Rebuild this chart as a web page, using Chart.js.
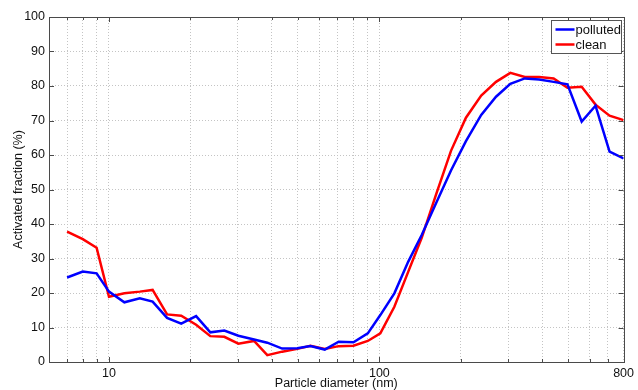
<!DOCTYPE html>
<html>
<head>
<meta charset="utf-8">
<script src="https://cdn.jsdelivr.net/npm/chart.js@4"></script>
<style>
    html, body { margin: 0; padding: 0; background: #fff; }
    #wrap { width: 638px; height: 390px; }
</style>
</head>
<body>
<div id="wrap"><canvas id="chart" width="638" height="390"></canvas></div>
<script>
// particle diameter (nm) of each bin
const diameters = [7, 8, 9, 10, 11.4, 13, 14.5, 16.4, 18.5, 21, 23.7, 26.7, 30.1, 34.4, 38.5,
    43.7, 49.7, 55.6, 62.8, 70.7, 80.2, 90.6, 100.8, 113.6, 127.9, 143.4, 162, 184, 209,
    238, 270, 305, 345, 390, 441, 496, 560, 630, 710, 800];

// activated fraction (%)
const polluted = [24.5, 26.2, 25.7, 20.4, 17.3, 18.5, 17.5, 12.8, 11.1, 13.3, 8.6, 9.1, 7.6, 6.5, 5.6,
    3.9, 4.0, 4.6, 3.6, 5.9, 5.7, 8.3, 13.6, 19.9, 29.1, 36.8, 46, 55.5, 64,
    71.6, 76.9, 80.6, 82.2, 81.9, 81.2, 80.5, 69.7, 74.3, 61.0, 59.0];
const clean = [37.8, 35.6, 33.1, 18.9, 19.9, 20.4, 20.9, 13.8, 13.4, 10.8, 7.5, 7.3, 5.3, 6.1, 2.0,
    3.0, 3.8, 4.7, 3.8, 4.6, 4.7, 6.1, 8.3, 16.0, 26.2, 36.0, 48.5, 61.2, 70.8,
    77.2, 81.2, 83.8, 82.6, 82.6, 82.2, 79.5, 79.8, 74.6, 71.4, 70.1];

// x grid lines (log decades) and which of them get a label
const xGridValues = [6, 7, 8, 9, 10, 20, 30, 40, 50, 60, 70, 80, 90, 100, 200, 300, 400, 500, 600, 700, 800];
const xLabels = [10, 100, 800];

const FONT = 'Liberation Sans, Arial, Helvetica, sans-serif';
const AXIS_COLOR = '#4a4a4a';

const toPoints = (ys) => ys.map((y, i) => ({ x: diameters[i], y: y }));

// box round the plot, inward tick marks and the legend (MATLAB look)
const frameAndLegend = {
    id: 'frameAndLegend',
    afterDraw(chart) {
        const ctx = chart.ctx;
        const a = chart.chartArea;
        const xs = chart.scales.x;
        const ys = chart.scales.y;
        ctx.save();
        ctx.strokeStyle = AXIS_COLOR;
        ctx.lineWidth = 1;
        ctx.setLineDash([]);
        ctx.beginPath();
        xGridValues.forEach(v => {
            const px = Math.round(xs.getPixelForValue(v)) + 0.5;
            const len = (v === 10 || v === 100) ? 5 : 3;
            ctx.moveTo(px, a.bottom); ctx.lineTo(px, a.bottom - len);
            ctx.moveTo(px, a.top); ctx.lineTo(px, a.top + len);
        });
        ys.ticks.forEach(t => {
            const py = Math.round(ys.getPixelForValue(t.value)) + 0.5;
            ctx.moveTo(a.left, py); ctx.lineTo(a.left + 5, py);
            ctx.moveTo(a.right, py); ctx.lineTo(a.right - 5, py);
        });
        ctx.stroke();
        ctx.strokeRect(Math.round(a.left) + 0.5, Math.round(a.top) + 0.5,
            Math.round(a.right - a.left), Math.round(a.bottom - a.top));

        // legend box in the top right corner
        const boxW = 70, boxH = 33;
        const bx = Math.round(a.right) - boxW - 2.5;
        const by = Math.round(a.top) + 3.5;
        ctx.fillStyle = '#fff';
        ctx.fillRect(bx, by, boxW, boxH);
        ctx.strokeStyle = '#555';
        ctx.strokeRect(bx, by, boxW, boxH);
        ctx.font = '13px ' + FONT;
        ctx.textBaseline = 'middle';
        chart.data.datasets.forEach((ds, i) => {
            const ly = by + 9 + i * 15;
            ctx.strokeStyle = ds.borderColor;
            ctx.lineWidth = 2.5;
            ctx.beginPath();
            ctx.moveTo(bx + 4, ly); ctx.lineTo(bx + 23, ly);
            ctx.stroke();
            ctx.fillStyle = '#111';
            ctx.fillText(ds.label, bx + 24, ly + 1);
        });
        ctx.restore();
    }
};

new Chart(document.getElementById('chart'), {
    type: 'line',
    data: {
        datasets: [
            { label: 'polluted', data: toPoints(polluted), borderColor: '#0000ff' },
            { label: 'clean', data: toPoints(clean), borderColor: '#ff0000' }
        ]
    },
    options: {
        responsive: false,
        animation: false,
        layout: { padding: { top: 17, right: 11, left: 0, bottom: 0 } },
        elements: {
            line: { borderWidth: 2.5, tension: 0, fill: false },
            point: { radius: 0 }
        },
        plugins: {
            legend: { display: false },
            tooltip: { enabled: false }
        },
        scales: {
            x: {
                type: 'logarithmic',
                min: 6,
                max: 800,
                afterBuildTicks: (scale) => { scale.ticks = xGridValues.map(v => ({ value: v })); },
                afterFit: (scale) => { scale.height = 28; },
                grid: { color: '#c4c4c4', lineWidth: 1, drawTicks: false },
                border: { display: false, dash: [1, 2] },
                ticks: {
                    autoSkip: false,
                    maxRotation: 0,
                    padding: 4,
                    color: '#111',
                    font: { family: FONT, size: 12.5 },
                    callback: (v) => xLabels.includes(v) ? String(v) : ''
                },
                title: {
                    display: true,
                    text: 'Particle diameter (nm)',
                    color: '#111',
                    font: { family: FONT, size: 12.5, lineHeight: 1 },
                    padding: { top: 0, bottom: 0 }
                }
            },
            y: {
                min: 0,
                max: 100,
                afterFit: (scale) => { scale.width = 49; },
                grid: { color: '#c4c4c4', lineWidth: 1, drawTicks: false },
                border: { display: false, dash: [1, 2] },
                ticks: {
                    stepSize: 10,
                    padding: 4,
                    color: '#111',
                    font: { family: FONT, size: 12.5 }
                },
                title: {
                    display: true,
                    text: 'Activated fraction (%)',
                    color: '#111',
                    font: { family: FONT, size: 12.5 },
                    padding: { top: 11, bottom: 0 }
                }
            }
        }
    },
    plugins: [frameAndLegend]
});
</script>
</body>
</html>
